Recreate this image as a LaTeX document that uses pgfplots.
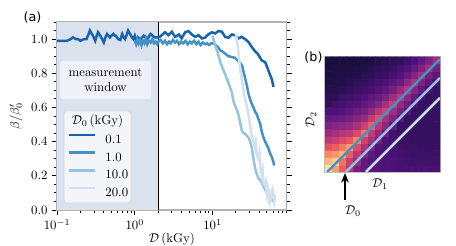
\documentclass[border=0pt]{standalone}
\usepackage{pgfplots}
\pgfplotsset{compat=1.18}
\usepackage{fontspec}
\newfontfamily\dejavu{DejaVu Sans}
\usetikzlibrary{arrows.meta}
\definecolor{cA}{HTML}{1764AB}
\definecolor{cB}{HTML}{4292C6}
\definecolor{cC}{HTML}{94C4DF}
\definecolor{cD}{HTML}{D0E1F2}
\definecolor{shade}{HTML}{DAE2EE}
\definecolor{boxfill}{HTML}{F3F5F9}
\definecolor{boxedge}{HTML}{D2D6DC}
\begin{document}
\begin{tikzpicture}
\useasboundingbox (0,0) rectangle (355.68bp,191.88bp);
\begin{axis}[
  at={(44.46bp,28.08bp)}, anchor=south west, scale only axis,
  width=179.2bp, height=146.64bp,
  xmode=log, xmin=0.1, xmax=90, ymin=0, ymax=1.1,
  ytick={0,0.2,0.4,0.6,0.8,1.0},
  minor ytick={0.05,0.1,0.15,0.25,0.3,0.35,0.45,0.5,0.55,0.65,0.7,0.75,0.85,0.9,0.95,1.05,1.1},
  yticklabel style={/pgf/number format/.cd, fixed, fixed zerofill, precision=1},
  tick align=outside, xtick pos=left, ytick pos=both, yticklabel pos=left,
  major tick length=3.9bp, minor tick length=2.3bp,
  every tick/.style={black, line width=0.75bp},
  axis line style={black!30, line width=0.8bp},
  xlabel={$\mathcal{D}\,$(kGy)}, ylabel={$\beta/\beta'_0$},
  xlabel style={inner sep=0pt, yshift=1.5bp},
  legend cell align=left,
  legend style={at={(0.0449,0.4086)}, anchor=north west, draw=none, fill=none,
    inner sep=0pt, row sep=4.73bp, column sep=5.8bp,
    nodes={inner sep=1bp, text height=7bp, text depth=0pt}},
  legend image code/.code={\draw[#1] (0bp,3.2bp) -- (20.8bp,3.2bp);},
]
\addplot[draw=none, fill=shade, forget plot] coordinates {(0.1,1.1) (2,1.1)} \closedcycle;
\addplot[black, line width=1bp, forget plot] coordinates {(2,0) (2,1.1)};
\draw[fill=white, fill opacity=0.55, draw=none, rounded corners=2.3bp]
  (rel axis cs:0.0131,0.5904) rectangle (rel axis cs:0.4092,0.7926);
\node[align=center] at (rel axis cs:0.2111,0.6915) {measurement\\window};
\draw[fill=boxfill, draw=boxedge, line width=0.6bp, rounded corners=2.3bp]
  (rel axis cs:0.0305,0.0372) rectangle (rel axis cs:0.3221,0.5266);
\node at (rel axis cs:0.1763,0.4734) {$\mathcal{D}_0\,$(kGy)};
\addplot[cA, line width=1.95bp] coordinates {
(0.1,0.99) (0.115,0.99) (0.134,0.99) (0.15,1.0) (0.16,1.01) (0.175,1.0) (0.186,1.0) (0.2,0.99) (0.21,0.995) (0.225,1.0) (0.24,1.0) (0.255,1.03) (0.265,1.05) (0.28,1.03) (0.29,1.02) (0.31,0.99) (0.325,1.02) (0.337,1.04) (0.36,1.02) (0.38,1.0) (0.40,0.98) (0.42,1.01) (0.44,1.03) (0.46,1.02) (0.48,1.01) (0.50,1.02) (0.53,1.03) (0.55,1.02) (0.57,1.02) (0.61,1.0) (0.65,0.995) (0.69,1.03) (0.72,1.01) (0.75,1.0) (0.78,1.02) (0.82,1.05) (0.87,1.03) (0.92,1.01) (0.96,1.0) (1.0,1.02) (1.05,0.99) (1.1,1.01) (1.2,1.0) (1.3,1.02) (1.45,1.0) (1.6,1.03) (1.8,1.01) (2.0,1.01) (2.1,1.013) (2.45,1.04) (2.7,1.023) (3.0,1.043) (3.3,1.013) (3.7,1.027) (4.0,1.004) (4.45,1.04) (4.9,1.047) (5.4,1.027) (6.0,1.013) (6.6,1.023) (7.3,1.004) (8.0,1.008) (8.8,1.027) (9.8,1.04) (10.8,1.033) (11.9,1.047) (13.2,1.043) (14.5,1.013) (16.0,1.008) (17.7,1.027) (19.5,1.023) (21.5,1.004) (23.7,1.013) (26.2,1.0) (28.9,0.984) (31.8,0.955) (35,0.93) (38,0.915) (41,0.89) (43,0.875) (47.5,0.865) (50,0.84) (52.4,0.815) (55,0.79) (57.9,0.765) (60.8,0.72)};
\addlegendentry{0.1}
\addplot[cB, line width=1.95bp] coordinates {
(1.0,0.99) (1.04,0.97) (1.08,1.0) (1.12,0.975) (1.17,0.995) (1.22,0.965) (1.27,0.99) (1.33,0.975) (1.39,1.005) (1.45,0.97) (1.52,0.99) (1.6,0.98) (1.68,1.0) (1.77,0.975) (1.86,0.985) (1.95,0.97) (2.05,0.99) (2.15,0.995) (2.3,0.975) (2.45,0.99) (2.6,0.97) (2.75,0.985) (2.9,0.975) (3.1,0.995) (3.3,0.98) (3.5,0.99) (3.7,0.97) (3.95,0.985) (4.2,0.975) (4.5,0.99) (4.8,0.97) (5.1,0.985) (5.4,0.975) (5.8,0.99) (6.2,0.97) (6.6,0.985) (7.0,0.965) (7.5,0.98) (8.0,0.97) (8.5,0.975) (9.0,0.965) (9.6,0.975) (10.3,0.975) (11.3,0.96) (11.9,0.95) (12.5,0.935) (13.2,0.93) (14.5,0.915) (16,0.90) (17.7,0.895) (19.5,0.89) (20.5,0.88) (21.5,0.87) (22.7,0.86) (24,0.845) (25,0.81) (26.3,0.77) (27.6,0.73) (29,0.68) (30.5,0.645) (32,0.62) (33.6,0.60) (35.3,0.575) (37.2,0.56) (39,0.53) (41,0.505) (43.1,0.455) (45.2,0.425) (47.5,0.40) (50,0.38) (52.4,0.36) (55.1,0.33) (57.9,0.31) (60.8,0.28) (62,0.26)};
\addlegendentry{1.0}
\addplot[cC, line width=1.95bp] coordinates {
(10,1.02) (10.4,0.99) (10.8,0.965) (11.4,0.935) (11.9,0.905) (12.5,0.87) (13.2,0.84) (14.5,0.795) (16.0,0.745) (17.7,0.69) (18.6,0.635) (19.5,0.61) (20.6,0.585) (21.5,0.56) (22.7,0.51) (23.8,0.465) (25,0.45) (26.3,0.445) (27.6,0.435) (29,0.425) (30.5,0.40) (32.1,0.36) (33.6,0.30) (35.3,0.245) (37,0.21) (39,0.185) (41,0.175) (43.1,0.16) (45.2,0.135) (47.5,0.12) (50,0.10) (52.4,0.085) (55,0.07) (58,0.06) (61,0.05)};
\addlegendentry{10.0}
\addplot[cD, line width=1.95bp] coordinates {
(20,1.03) (20.5,1.0) (21,0.965) (21.5,0.92) (22.2,0.86) (22.7,0.82) (23.8,0.76) (25,0.70) (26.3,0.645) (27.6,0.61) (29,0.56) (30.5,0.49) (31.3,0.46) (32.1,0.43) (33.6,0.40) (34.5,0.38) (35.3,0.36) (36,0.39) (37.2,0.33) (38,0.31) (39,0.30) (40,0.33) (41,0.25) (42,0.22) (43,0.20) (44,0.23) (45,0.17) (46,0.15) (47.5,0.14) (48.5,0.16) (50,0.10) (51,0.12) (52.4,0.07) (53.5,0.09) (55,0.05) (56.5,0.08) (57.9,0.09) (59,0.12) (60.8,0.10) (62,0.06) (63,0.09) (64,0.05)};
\addlegendentry{20.0}
\end{axis}
\begin{axis}[
  at={(253.5bp,57.72bp)}, anchor=south west, scale only axis,
  width=89.7bp, height=89.7bp,
  xmin=-0.5, xmax=15.5, ymin=-0.5, ymax=15.5,
  ticks=none, axis line style={black!25, line width=0.8bp},
  colormap={magma}{rgb255=(0,0,4) rgb255=(28,16,68) rgb255=(79,18,123) rgb255=(129,37,129) rgb255=(181,54,122) rgb255=(229,80,100) rgb255=(251,135,97) rgb255=(254,194,135) rgb255=(252,253,191)},
  point meta min=0, point meta max=1,
]
\addplot[matrix plot*, mesh/cols=16, point meta=explicit] table[row sep=\\, meta=c] {
x y c\\
0 0 0.95\\ 1 0 0.80\\ 2 0 0.65\\ 3 0 0.50\\ 4 0 0.34\\ 5 0 0.29\\ 6 0 0.27\\ 7 0 0.26\\ 8 0 0.25\\ 9 0 0.24\\ 10 0 0.23\\ 11 0 0.23\\ 12 0 0.23\\ 13 0 0.23\\ 14 0 0.23\\ 15 0 0.23\\
0 1 0.85\\ 1 1 0.90\\ 2 1 0.70\\ 3 1 0.55\\ 4 1 0.42\\ 5 1 0.30\\ 6 1 0.27\\ 7 1 0.26\\ 8 1 0.25\\ 9 1 0.24\\ 10 1 0.23\\ 11 1 0.22\\ 12 1 0.21\\ 13 1 0.21\\ 14 1 0.21\\ 15 1 0.21\\
0 2 0.75\\ 1 2 0.78\\ 2 2 0.85\\ 3 2 0.65\\ 4 2 0.51\\ 5 2 0.38\\ 6 2 0.28\\ 7 2 0.25\\ 8 2 0.24\\ 9 2 0.23\\ 10 2 0.22\\ 11 2 0.21\\ 12 2 0.20\\ 13 2 0.20\\ 14 2 0.20\\ 15 2 0.20\\
0 3 0.62\\ 1 3 0.66\\ 2 3 0.72\\ 3 3 0.80\\ 4 3 0.60\\ 5 3 0.48\\ 6 3 0.36\\ 7 3 0.26\\ 8 3 0.24\\ 9 3 0.22\\ 10 3 0.21\\ 11 3 0.20\\ 12 3 0.20\\ 13 3 0.19\\ 14 3 0.19\\ 15 3 0.19\\
0 4 0.52\\ 1 4 0.55\\ 2 4 0.60\\ 3 4 0.64\\ 4 4 0.75\\ 5 4 0.56\\ 6 4 0.45\\ 7 4 0.34\\ 8 4 0.24\\ 9 4 0.22\\ 10 4 0.20\\ 11 4 0.20\\ 12 4 0.19\\ 13 4 0.19\\ 14 4 0.19\\ 15 4 0.19\\
0 5 0.43\\ 1 5 0.46\\ 2 5 0.50\\ 3 5 0.52\\ 4 5 0.60\\ 5 5 0.70\\ 6 5 0.53\\ 7 5 0.42\\ 8 5 0.32\\ 9 5 0.22\\ 10 5 0.20\\ 11 5 0.19\\ 12 5 0.19\\ 13 5 0.19\\ 14 5 0.19\\ 15 5 0.19\\
0 6 0.36\\ 1 6 0.38\\ 2 6 0.40\\ 3 6 0.42\\ 4 6 0.47\\ 5 6 0.56\\ 6 6 0.66\\ 7 6 0.50\\ 8 6 0.40\\ 9 6 0.30\\ 10 6 0.20\\ 11 6 0.19\\ 12 6 0.19\\ 13 6 0.19\\ 14 6 0.19\\ 15 6 0.19\\
0 7 0.30\\ 1 7 0.31\\ 2 7 0.32\\ 3 7 0.34\\ 4 7 0.38\\ 5 7 0.43\\ 6 7 0.53\\ 7 7 0.62\\ 8 7 0.47\\ 9 7 0.37\\ 10 7 0.28\\ 11 7 0.19\\ 12 7 0.19\\ 13 7 0.19\\ 14 7 0.19\\ 15 7 0.19\\
0 8 0.25\\ 1 8 0.25\\ 2 8 0.26\\ 3 8 0.28\\ 4 8 0.32\\ 5 8 0.35\\ 6 8 0.41\\ 7 8 0.50\\ 8 8 0.58\\ 9 8 0.44\\ 10 8 0.35\\ 11 8 0.26\\ 12 8 0.19\\ 13 8 0.19\\ 14 8 0.19\\ 15 8 0.19\\
0 9 0.18\\ 1 9 0.21\\ 2 9 0.22\\ 3 9 0.24\\ 4 9 0.26\\ 5 9 0.29\\ 6 9 0.33\\ 7 9 0.38\\ 8 9 0.46\\ 9 9 0.55\\ 10 9 0.41\\ 11 9 0.33\\ 12 9 0.25\\ 13 9 0.19\\ 14 9 0.19\\ 15 9 0.19\\
0 10 0.16\\ 1 10 0.17\\ 2 10 0.20\\ 3 10 0.21\\ 4 10 0.23\\ 5 10 0.25\\ 6 10 0.28\\ 7 10 0.31\\ 8 10 0.36\\ 9 10 0.44\\ 10 10 0.52\\ 11 10 0.39\\ 12 10 0.31\\ 13 10 0.23\\ 14 10 0.19\\ 15 10 0.19\\
0 11 0.14\\ 1 11 0.15\\ 2 11 0.16\\ 3 11 0.18\\ 4 11 0.20\\ 5 11 0.21\\ 6 11 0.23\\ 7 11 0.26\\ 8 11 0.29\\ 9 11 0.34\\ 10 11 0.42\\ 11 11 0.50\\ 12 11 0.38\\ 13 11 0.30\\ 14 11 0.23\\ 15 11 0.19\\
0 12 0.13\\ 1 12 0.14\\ 2 12 0.14\\ 3 12 0.15\\ 4 12 0.17\\ 5 12 0.18\\ 6 12 0.20\\ 7 12 0.22\\ 8 12 0.24\\ 9 12 0.28\\ 10 12 0.32\\ 11 12 0.40\\ 12 12 0.48\\ 13 12 0.36\\ 14 12 0.29\\ 15 12 0.22\\
0 13 0.12\\ 1 13 0.13\\ 2 13 0.13\\ 3 13 0.14\\ 4 13 0.14\\ 5 13 0.16\\ 6 13 0.17\\ 7 13 0.19\\ 8 13 0.20\\ 9 13 0.23\\ 10 13 0.26\\ 11 13 0.31\\ 12 13 0.38\\ 13 13 0.46\\ 14 13 0.35\\ 15 13 0.28\\
0 14 0.11\\ 1 14 0.12\\ 2 14 0.12\\ 3 14 0.12\\ 4 14 0.13\\ 5 14 0.13\\ 6 14 0.15\\ 7 14 0.16\\ 8 14 0.17\\ 9 14 0.19\\ 10 14 0.22\\ 11 14 0.25\\ 12 14 0.30\\ 13 14 0.37\\ 14 14 0.45\\ 15 14 0.34\\
0 15 0.11\\ 1 15 0.11\\ 2 15 0.11\\ 3 15 0.11\\ 4 15 0.11\\ 5 15 0.12\\ 6 15 0.13\\ 7 15 0.14\\ 8 15 0.15\\ 9 15 0.17\\ 10 15 0.18\\ 11 15 0.21\\ 12 15 0.24\\ 13 15 0.29\\ 14 15 0.36\\ 15 15 0.44\\
};
\addplot[cB, line width=1.95bp] coordinates {(-0.2,-0.5) (15.5,15.2)};
\addplot[cC, line width=1.95bp] coordinates {(2.4,-0.5) (15.5,12.6)};
\addplot[cD, line width=1.95bp] coordinates {(5.2,-0.5) (15.5,9.8)};
\end{axis}
\begin{scope}[x=0.78bp, y=0.78bp]
\node[font=\dejavu] at (32.5,229) {(a)};
\node[font=\dejavu] at (313.5,189) {(b)};
\node[rotate=90] at (311,126) {$\mathcal{D}_2$};
\node at (380,62) {$\mathcal{D}_1$};
\draw[-{Stealth[length=7.5bp, width=6bp]}, line width=1bp] (345,46) -- (345,73);
\node at (353,35) {$\mathcal{D}_0$};
\end{scope}
\end{tikzpicture}
\end{document}
